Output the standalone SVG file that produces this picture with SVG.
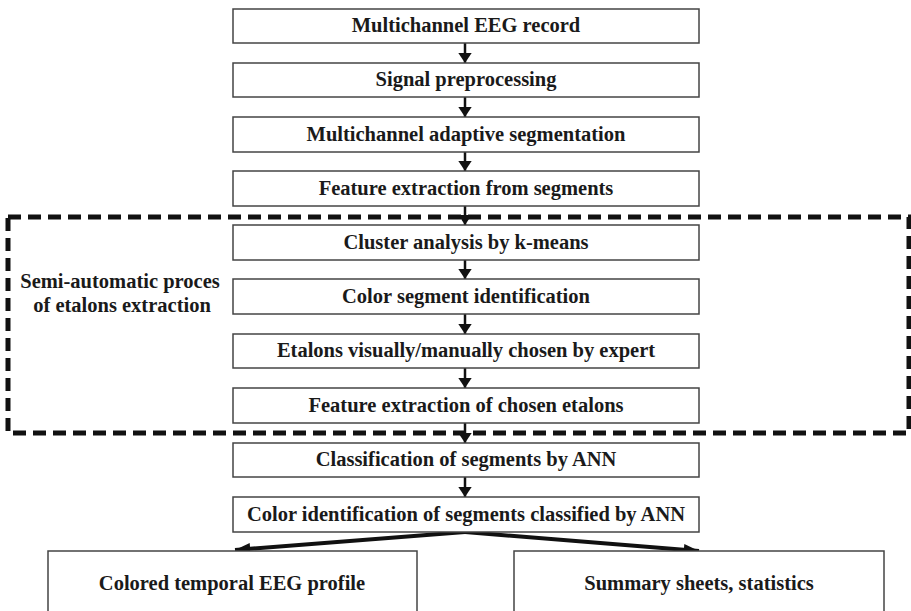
<svg xmlns="http://www.w3.org/2000/svg" width="911" height="611" viewBox="0 0 911 611">
  <style>
    .box { fill: #fff; stroke: #444; stroke-width: 1.5; }
    .lbl { font-family: "Liberation Serif", "DejaVu Serif", "Times New Roman", serif; font-weight: 700; font-size: 20.5px; fill: #1a1a1a; text-anchor: middle; }
    .flow { stroke: #111; stroke-width: 2.5; fill: none; }
    .flow-thick { stroke: #111; stroke-width: 4; fill: none; }
    .group { fill: none; stroke: #111; stroke-width: 5; stroke-dasharray: 13 7; }
  </style>
  <defs>
    <marker id="head" viewBox="0 0 10 10" refX="10" refY="5" markerWidth="4.2" markerHeight="5.6" markerUnits="strokeWidth" orient="auto" preserveAspectRatio="none">
      <path d="M0,0 L10,5 L0,10 z" fill="#111"/>
    </marker>
    <marker id="head-big" viewBox="0 0 10 10" refX="10" refY="5" markerWidth="3.8" markerHeight="2.9" markerUnits="strokeWidth" orient="auto" preserveAspectRatio="none">
      <path d="M0,0 L10,5 L0,10 z" fill="#111"/>
    </marker>
  </defs>
  <rect width="911" height="611" fill="#fff"/>

  <!-- dashed frame for the semi-automatic stage -->
  <g id="semi-automatic-stage">
    <rect class="group" x="8" y="217" width="901" height="216"/>
    <text class="lbl" x="120" y="288">Semi-automatic  proces</text>
    <text class="lbl" x="122" y="312">of etalons extraction</text>
  </g>

  <!-- connectors -->
  <g id="connectors">
    <line class="flow" x1="465" y1="43" x2="465" y2="63" marker-end="url(#head)"/>
    <line class="flow" x1="465" y1="97" x2="465" y2="117" marker-end="url(#head)"/>
    <line class="flow" x1="465" y1="152" x2="465" y2="171" marker-end="url(#head)"/>
    <line class="flow" x1="465" y1="206" x2="465" y2="225" marker-end="url(#head)"/>
    <line class="flow" x1="465" y1="260" x2="465" y2="279" marker-end="url(#head)"/>
    <line class="flow" x1="465" y1="314" x2="465" y2="334" marker-end="url(#head)"/>
    <line class="flow" x1="465" y1="368" x2="465" y2="388" marker-end="url(#head)"/>
    <line class="flow" x1="465" y1="423" x2="465" y2="443" marker-end="url(#head)"/>
    <line class="flow" x1="465" y1="477" x2="465" y2="497" marker-end="url(#head)"/>
    <line class="flow-thick" x1="465" y1="532" x2="235" y2="550" marker-end="url(#head-big)"/>
    <line class="flow-thick" x1="465" y1="532" x2="699" y2="551" marker-end="url(#head-big)"/>
  </g>

  <!-- process steps -->
  <g id="n1"><rect class="box" x="233" y="9" width="466" height="34"/><text class="lbl" x="466" y="32">Multichannel EEG record</text></g>
  <g id="n2"><rect class="box" x="233" y="63" width="466" height="34"/><text class="lbl" x="466" y="86">Signal preprocessing</text></g>
  <g id="n3"><rect class="box" x="233" y="117" width="466" height="35"/><text class="lbl" x="466" y="141">Multichannel adaptive segmentation</text></g>
  <g id="n4"><rect class="box" x="233" y="171" width="466" height="35"/><text class="lbl" x="466" y="195">Feature extraction from segments</text></g>
  <g id="n5"><rect class="box" x="233" y="225" width="466" height="35"/><text class="lbl" x="466" y="249">Cluster analysis by k-means</text></g>
  <g id="n6"><rect class="box" x="233" y="279" width="466" height="35"/><text class="lbl" x="466" y="303">Color segment identification</text></g>
  <g id="n7"><rect class="box" x="233" y="334" width="466" height="34"/><text class="lbl" x="466" y="357">Etalons visually/manually chosen by expert</text></g>
  <g id="n8"><rect class="box" x="233" y="388" width="466" height="35"/><text class="lbl" x="466" y="412">Feature extraction of chosen etalons</text></g>
  <g id="n9"><rect class="box" x="233" y="443" width="466" height="34"/><text class="lbl" x="466" y="466">Classification of segments by ANN</text></g>
  <g id="n10"><rect class="box" x="233" y="497" width="466" height="35"/><text class="lbl" x="466" y="521">Color identification of segments classified by ANN</text></g>

  <!-- outputs -->
  <g id="out-profile"><rect class="box" x="48" y="551" width="369" height="62"/><text class="lbl" x="232" y="590">Colored temporal EEG profile</text></g>
  <g id="out-summary"><rect class="box" x="514" y="551" width="370" height="62"/><text class="lbl" x="699" y="590">Summary sheets, statistics</text></g>
</svg>
